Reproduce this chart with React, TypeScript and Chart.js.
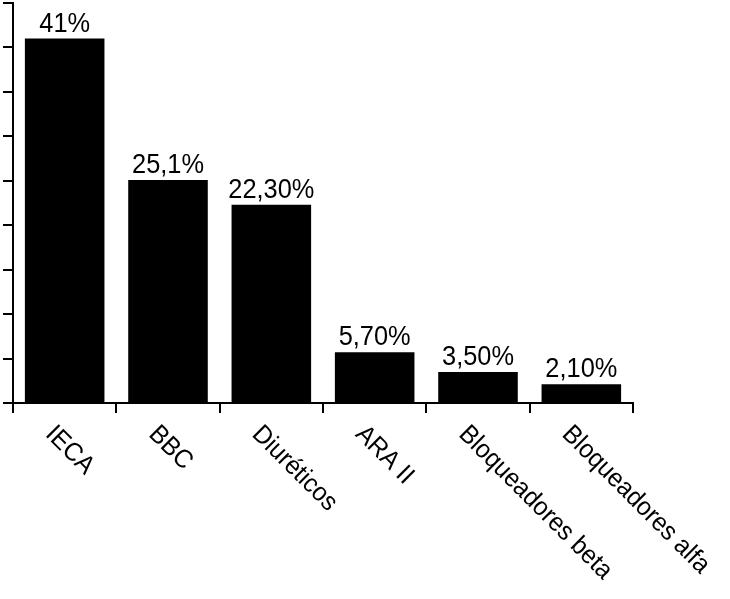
import React, { useEffect, useRef } from "react";
import { Chart, registerables } from "chart.js";

Chart.register(...registerables);

const categories = ["IECA", "BBC", "Diuréticos", "ARA II", "Bloqueadores beta", "Bloqueadores alfa"];
const values = [41, 25.1, 22.3, 5.7, 3.5, 2.1];
const valueLabels = ["41%", "25,1%", "22,30%", "5,70%", "3,50%", "2,10%"];
const yTicks = [0, 5, 10, 15, 20, 25, 30, 35, 40, 45];

const FONT = "'Liberation Sans', Arial, sans-serif";
const CONDENSE = 0.94;

const labelsPlugin = {
  id: "customLabels",
  afterDatasetsDraw(chart: any) {
    const ctx = chart.ctx;
    const meta = chart.getDatasetMeta(0);
    ctx.save();
    ctx.fillStyle = "#000";
    ctx.font = "27px " + FONT;
    ctx.textAlign = "center";
    ctx.textBaseline = "alphabetic";
    meta.data.forEach((bar: any, i: number) => {
      ctx.save();
      ctx.translate(bar.x, bar.y - 7);
      ctx.scale(CONDENSE, 1);
      ctx.fillText(valueLabels[i], 0, 0);
      ctx.restore();
    });
    ctx.restore();

    const xScale = chart.scales.x;
    ctx.save();
    ctx.fillStyle = "#000";
    ctx.font = "26px " + FONT;
    ctx.textAlign = "left";
    ctx.textBaseline = "top";
    categories.forEach((c, i) => {
      const cx = xScale.getPixelForValue(i);
      ctx.save();
      ctx.translate(cx - 6, xScale.bottom + 8);
      ctx.rotate(Math.PI / 4);
      ctx.scale(CONDENSE, 1);
      ctx.fillText(c, 0, 0);
      ctx.restore();
    });
    ctx.restore();
  },
};

export default function App() {
  const ref = useRef<HTMLCanvasElement>(null);
  useEffect(() => {
    document.body.style.margin = "0";
    const chart = new Chart(ref.current!, {
      type: "bar",
      data: {
        labels: categories,
        datasets: [
          {
            data: values,
            backgroundColor: "#000",
            borderWidth: 0,
            categoryPercentage: 1,
            barPercentage: 0.77,
          },
        ],
      },
      options: {
        animation: false,
        responsive: false,
        layout: { padding: { left: 3, top: 3, right: 97, bottom: 186 } },
        plugins: { legend: { display: false }, tooltip: { enabled: false } },
        scales: {
          x: {
            offset: true,
            grid: { offset: true, drawOnChartArea: false, drawTicks: true, tickLength: 10, color: "#000", lineWidth: 2 },
            border: { color: "#000", width: 2 },
            ticks: { display: false },
          },
          y: {
            min: 0,
            max: 45,
            afterBuildTicks: (scale: any) => {
              scale.ticks = yTicks.map((v) => ({ value: v }));
            },
            grid: { drawOnChartArea: false, drawTicks: true, tickLength: 10, color: "#000", lineWidth: 2 },
            border: { color: "#000", width: 2 },
            ticks: { display: false },
          },
        },
      },
      plugins: [labelsPlugin],
    });
    return () => chart.destroy();
  }, []);
  return <canvas ref={ref} width={730} height={599} style={{ display: "block" }} />;
}
